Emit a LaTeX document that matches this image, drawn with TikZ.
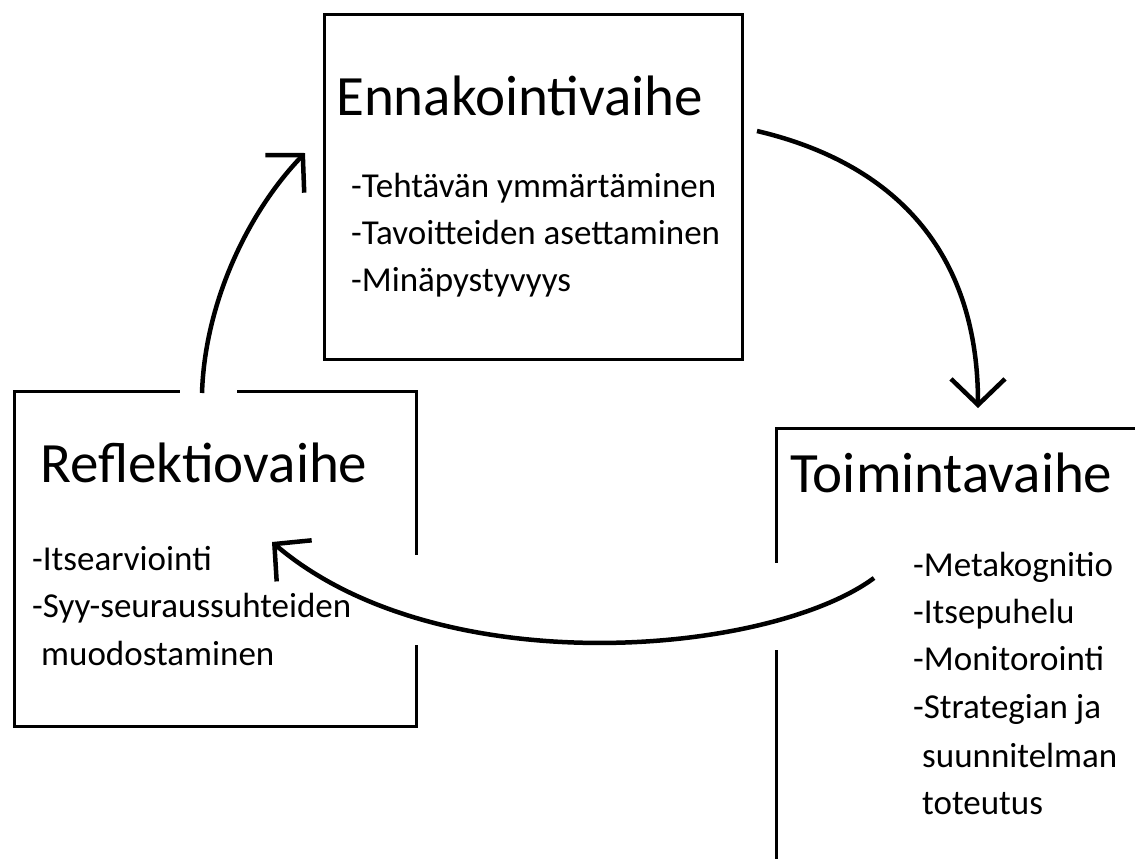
\documentclass[tikz,border=0pt]{standalone}
\usepackage{fontspec}
\setmainfont{Carlito}
\usetikzlibrary{arrows.meta}

\tikzset{
  vaihe/.style={draw=black, line width=3pt, inner sep=0pt, anchor=north west},
  otsikko/.style={anchor=base west, inner sep=0pt, font=\fontsize{57}{68}\selectfont},
  kohta/.style={anchor=base west, inner sep=0pt, font=\fontsize{35}{42}\selectfont},
  nuoli/.style={line width=4.5pt, -{Straight Barb[length=26pt,width=54pt]}},
}

\begin{document}
\begin{tikzpicture}[x=1pt,y=-1pt]

\useasboundingbox (0,0) rectangle (1135,859);
\clip (0,0) rectangle (1135,859);

% laatikot
\node[vaihe, minimum width=418pt, minimum height=345pt] (ennak) at (323,13) {};
\node[vaihe, minimum width=402pt, minimum height=335pt] (refl) at (13,390) {};
\node[vaihe, minimum width=500pt, minimum height=500pt] (toim) at (775,427) {};

% aukot reunoissa
\fill[white] (180,380) rectangle (237,400);
\fill[white] (405,555) rectangle (425,645);
\fill[white] (765,563) rectangle (785,650);

\node[otsikko] (ennak-t) at (336,115) {Ennakointivaihe};
\node[otsikko] (refl-t) at (40,482) {Reflektiovaihe};
\node[otsikko] (toim-t) at (790,492) {Toimintavaihe};

\foreach \t [count=\i] in {-Tehtävän ymmärtäminen,-Tavoitteiden asettaminen,-Minäpystyvyys}
    \node[kohta] (ennak-\i) at (351,150+47*\i) {\t};

\foreach \t [count=\i] in {-Itsearviointi,-Syy-seuraussuhteiden}
    \node[kohta] (refl-\i) at (32,523+47*\i) {\t};
\node[kohta] (refl-3) at (41,665) {muodostaminen};

\foreach \t [count=\i] in {-Metakognitio,-Itsepuhelu,-Monitorointi,-Strategian ja}
    \node[kohta] (toim-\i) at (913,529+47.3*\i) {\t};
\node[kohta] (toim-5) at (922,767) {suunnitelman};
\node[kohta] (toim-6) at (922,814) {toteutus};

% nuolet
\coordinate (ennak-ulos) at (757,131);
\coordinate (toim-sisaan) at (978,408);
\coordinate (toim-ulos) at (874,578);
\coordinate (refl-sisaan) at (272,542);
\coordinate (refl-ulos) at (202,393);
\coordinate (ennak-sisaan) at (305,153);

\draw[nuoli] (ennak-ulos) .. controls (893,163) and (978,250) .. (toim-sisaan);
\draw[nuoli] (toim-ulos) .. controls (770,655) and (440,685) .. (refl-sisaan);
\draw[nuoli] (refl-ulos) .. controls (205,300) and (250,210) .. (ennak-sisaan);

\end{tikzpicture}
\end{document}
